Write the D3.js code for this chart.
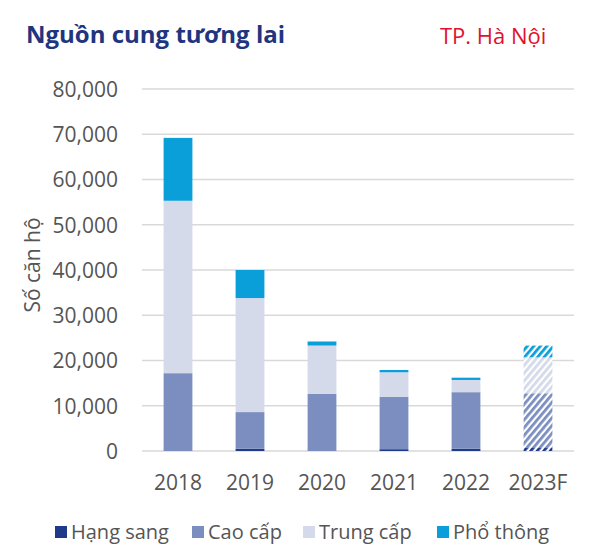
<!DOCTYPE html>
<html><head><meta charset="utf-8">
<script src="https://cdn.jsdelivr.net/npm/d3@7"></script>
<style>body{margin:0;background:#fff;}svg{display:block;font-family:"Open Sans",sans-serif;}</style>
</head><body><svg id="c" width="600" height="560"></svg>
<script>
const categories = ["2018","2019","2020","2021","2022","2023F"];
const seriesNames = ["Hạng sang","Cao cấp","Trung cấp","Phổ thông"];
const hangSang = [0, 500, 0, 400, 500, 800];
const caoCap = [17200, 8100, 12600, 11600, 12500, 11950];
const trungCap = [38100, 25200, 10700, 5400, 2700, 7950];
const phoThong = [13900, 6200, 900, 500, 500, 2600];
const yTicks = [0,10000,20000,30000,40000,50000,60000,70000,80000];
const colors = ["#1f3a8a","#7b8ebf","#d4dae9","#0b9fd9"];
const forecast = ["2023F"];

const svg = d3.select("#c");
const rows = categories.map((c,i)=>({cat:c,"Hạng sang":hangSang[i],"Cao cấp":caoCap[i],"Trung cấp":trungCap[i],"Phổ thông":phoThong[i]}));
const stack = d3.stack().keys(seriesNames)(rows);

const x = d3.scaleBand().domain(categories).range([142,574]).paddingInner(0.6).paddingOuter(0.3);
const y = d3.scaleLinear().domain([0,80000]).range([451,89]);

// hatch patterns
const defs = svg.append("defs");
colors.forEach((c,i)=>{
  const p = defs.append("pattern").attr("id","h"+i).attr("patternUnits","userSpaceOnUse")
    .attr("width",5).attr("height",5).attr("patternTransform","rotate(40)");
  p.append("rect").attr("width",5).attr("height",5).attr("fill","#fff");
  p.append("rect").attr("width",2.8).attr("height",5).attr("fill",c);
});

// gridlines
svg.append("g").selectAll("line").data(yTicks).join("line")
  .attr("x1",142).attr("x2",574).attr("y1",d=>y(d)).attr("y2",d=>y(d))
  .attr("stroke","#d9d9d9").attr("stroke-width",1.5);

// y axis labels
const yAxis = svg.append("g").attr("transform","translate(126,0)")
  .call(d3.axisLeft(y).tickValues(yTicks).tickSize(0).tickPadding(8).tickFormat(d3.format(",")));
yAxis.select(".domain").remove();
yAxis.selectAll("text").attr("font-size",21).attr("fill","#555").attr("font-family","Open Sans").attr("dy","0.35em");

// bars
stack.forEach((s,si)=>{
  svg.append("g").selectAll("rect").data(s).join("rect")
    .attr("x",d=>x(d.data.cat)).attr("width",x.bandwidth())
    .attr("y",d=>y(d[1])).attr("height",d=>Math.max(0,y(d[0])-y(d[1])))
    .attr("fill",d=>forecast.includes(d.data.cat)?`url(#h${si})`:colors[si]);
});

// x axis labels
const xAxis = svg.append("g").attr("transform","translate(0,474)")
  .call(d3.axisBottom(x).tickSize(0).tickPadding(0));
xAxis.select(".domain").remove();
xAxis.selectAll("text").attr("font-size",21).attr("fill","#555").attr("font-family","Open Sans").attr("dy","0.75em");

// y title
svg.append("text").attr("transform","translate(40,265) rotate(-90)").attr("text-anchor","middle")
  .attr("font-size",21).attr("fill","#555").text("Số căn hộ");

// titles
svg.append("text").attr("x",26).attr("y",43).attr("font-size",24).attr("font-weight","bold")
  .attr("fill","#1f3580").text("Nguồn cung tương lai");
svg.append("text").attr("x",440).attr("y",44).attr("font-size",22)
  .attr("fill","#e0102e").text("TP. Hà Nội");

// legend
const legX = [55,192,303,437];
const leg = svg.append("g").selectAll("g").data(seriesNames).join("g")
  .attr("transform",(d,i)=>`translate(${legX[i]},532)`);
leg.append("rect").attr("x",0).attr("y",-6).attr("width",12).attr("height",12).attr("fill",(d,i)=>colors[i]);
leg.append("text").attr("x",16).attr("y",0).attr("dy","0.35em").attr("font-size",20).attr("fill","#555").text(d=>d);
</script></body></html>
